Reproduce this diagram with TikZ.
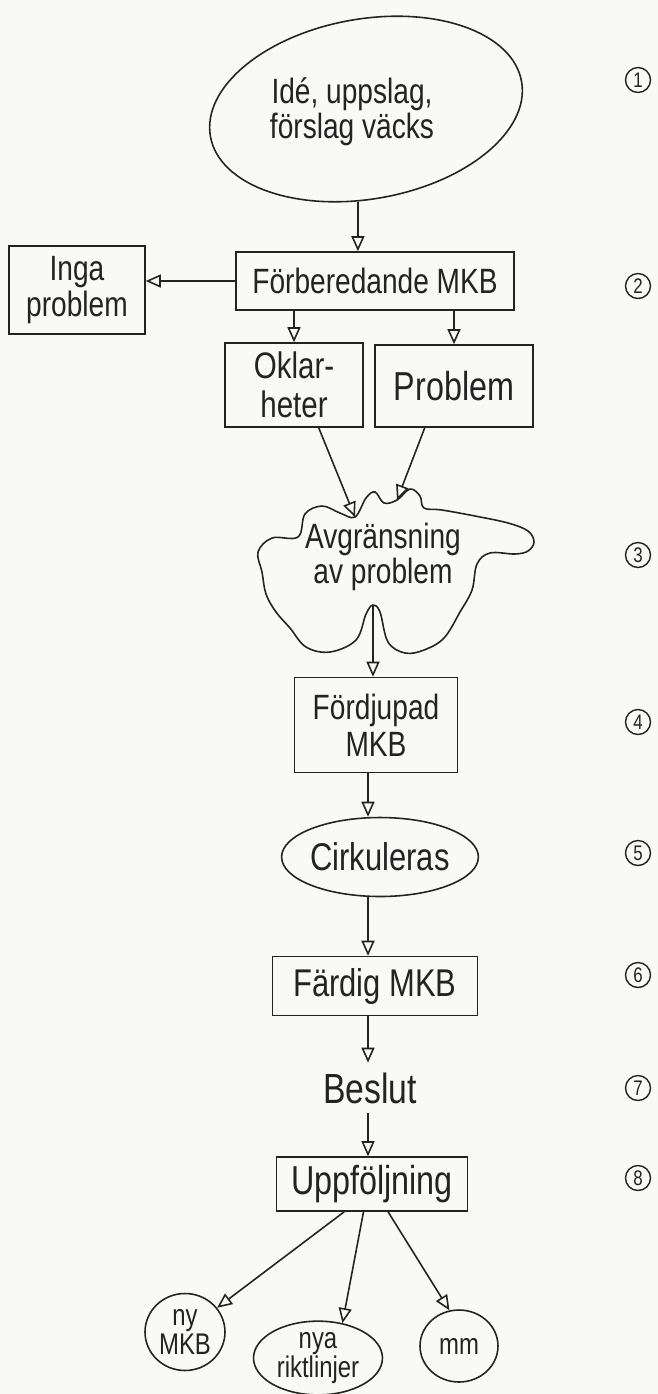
\documentclass[tikz,border=0pt]{standalone}
\usepackage{fontspec}
\setmainfont{Liberation Sans}[FakeStretch=0.8]
\usepackage{tikz}
\usetikzlibrary{positioning,calc}
\usetikzlibrary{arrows.meta,shapes.geometric}
\definecolor{InkGray}{RGB}{35,35,35}
\definecolor{PaperWhite}{RGB}{249,249,247}
\tikzset{
  box/.style={draw=InkGray,line width=.9pt,inner sep=0pt,align=center,text=InkGray,
    font=\fontsize{20}{21}\selectfont},
  oval/.style={box,ellipse},
  txt/.style={inner sep=0pt,align=center,text=InkGray,font=\fontsize{20}{20}\selectfont},
  flow/.style={draw=InkGray,line width=.9pt,-{Triangle[open,length=3mm,width=2.6mm]}},
  stepno/.style={circle,draw=InkGray,line width=.8pt,inner sep=0pt,minimum size=.5cm,
    text=InkGray,font=\fontsize{12}{12}\selectfont},
}
\begin{document}
\begin{tikzpicture}[x=0.02cm,y=-0.02cm]
\useasboundingbox (0,0) rectangle (658,1394);
\fill[PaperWhite] (0,0) rectangle (658,1394);
% idea
\node[oval,rotate=10,minimum width=6.32cm,minimum height=3.6cm] (idea) at (366,109) {};
\node[txt] (ideatxt) at (352,112) {Idé, uppslag,\\förslag väcks};
% preliminary step
\node[box,minimum width=5.56cm,minimum height=1.16cm] (forb) at (375,281) {Förberedande MKB};
\node[box,minimum width=2.72cm,minimum height=1.76cm] (inga) at (77,290) {Inga\\problem};
\node[box,minimum width=2.76cm,minimum height=1.68cm,font=\fontsize{21}{22}\selectfont] (oklar) at (294,385) {Oklar-\\heter};
\node[box,minimum width=3.16cm,minimum height=1.64cm,font=\fontsize{23}{23}\selectfont] (problem) at (454,386) {Problem};
% scoping cloud
\node[txt] (avgr) at (383,557) {Avgränsning\\av problem};
\draw[InkGray,line width=.9pt] plot[smooth cycle,tension=.6] coordinates {
  (258,552) (272,538) (298,537) (305,514) (322,506) (340,513) (355,517) (366,498)
  (375,492) (384,503) (397,500) (410,489) (420,496) (424,508) (442,510) (475,516)
  (508,523) (528,531) (534,542) (528,551) (515,554) (490,553) (477,564) (472,590)
  (460,612) (444,638) (424,650) (405,653) (388,642) (380,612) (373,605) (366,614)
  (356,640) (330,652) (306,647) (290,628) (276,612) (266,594) (262,572)};
\coordinate (cin1) at (355,517);
\coordinate (cin2) at (397,500);
\coordinate (cout) at (373,605);
% main line
\node[box,minimum width=3.26cm,minimum height=1.9cm] (fordj) at (376,725) {Fördjupad\\MKB};
\node[oval,minimum width=3.6cm,minimum height=1.58cm,font=\fontsize{22}{22}\selectfont] (cirk) at (380,857) {Cirkuleras};
\node[box,minimum width=4.1cm,minimum height=1.18cm,font=\fontsize{22}{22}\selectfont] (fardig) at (375,986) {Färdig MKB};
\node[txt,minimum height=1cm,font=\fontsize{24}{24}\selectfont] (beslut) at (370,1088) {Beslut};
\node[box,minimum width=3.82cm,minimum height=1.08cm,font=\fontsize{23}{23}\selectfont] (uppf) at (372,1184) {Uppföljning};
\node[oval,minimum width=1.6cm,minimum height=1.54cm,font=\fontsize{17}{17}\selectfont] (ny) at (185,1332) {ny\\MKB};
\node[oval,minimum width=2.58cm,minimum height=1.4cm,font=\fontsize{17}{17}\selectfont] (nya) at (318,1358) {nya\\riktlinjer};
\node[oval,minimum width=1.56cm,minimum height=1.44cm,font=\fontsize{17}{17}\selectfont] (mm) at (459,1346) {mm};
\coordinate (spine) at (368,0);
% arrows
\draw[flow] (idea.-105) -- (idea.-105 |- forb.north);
\draw[flow] (forb.west) -- (forb.west -| inga.east);
\draw[flow] (oklar.north |- forb.south) -- (oklar.north);
\draw[flow] (problem.north |- forb.south) -- (problem.north);
\draw[flow] (oklar.-60) -- (cin1);
\draw[flow] (problem.-125) -- (cin2);
\draw[flow] (cout) -- (cout |- fordj.north);
\foreach \a/\b in {fordj/cirk,cirk/fardig,fardig/beslut,beslut/uppf}
  \draw[flow] (\a.south -| spine) -- (\b.north -| spine);
\draw[flow] (uppf.-135) -- (ny);
\draw[flow] (uppf.-107) -- (nya.55);
\draw[flow] (uppf.-60) -- (mm.105);
% step numbers
\foreach \i/\y in {1/80,2/286,3/555,4/722,5/853,6/975,7/1088,8/1178}
  \node[stepno] (n\i) at (638,\y) {\i};
\end{tikzpicture}
\end{document}
